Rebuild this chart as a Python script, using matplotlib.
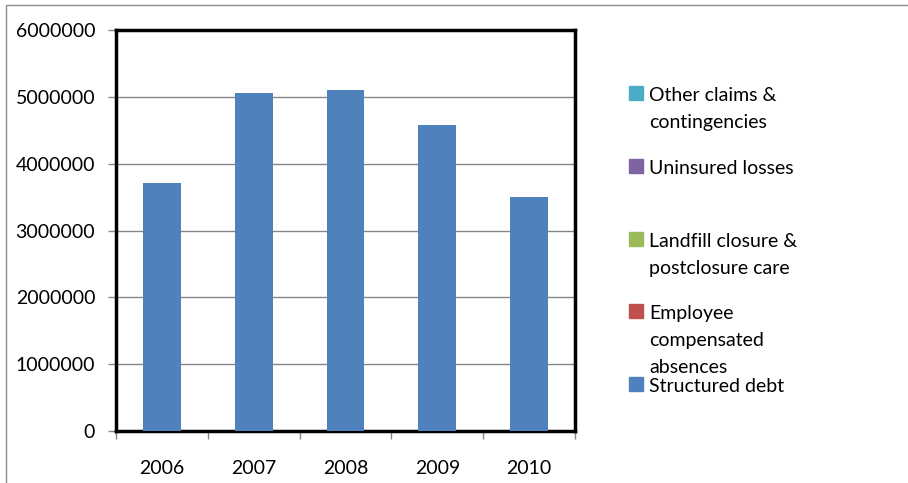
import matplotlib.pyplot as plt
from matplotlib.patches import Rectangle
import numpy as np

plt.rcParams['font.family'] = ['Lato', 'DejaVu Sans']

# 数据
years = ['2006', '2007', '2008', '2009', '2010']
series_names = ['Structured debt', 'Employee\ncompensated\nabsences',
                'Landfill closure &\npostclosure care', 'Uninsured losses',
                'Other claims &\ncontingencies']
structured_debt = [3710000, 5055000, 5095000, 4575000, 3500000]
employee_absences = [0, 0, 0, 0, 0]
landfill_care = [0, 0, 0, 0, 0]
uninsured_losses = [0, 0, 0, 0, 0]
other_claims = [0, 0, 0, 0, 0]
colors = ['#4F81BD', '#C0504D', '#9BBB59', '#8064A2', '#4BACC6']

W, H = 908, 483
fig = plt.figure(figsize=(W / 100, H / 100), dpi=100)
ax = fig.add_axes([116 / W, 1 - 431 / H, (575 - 116) / W, (431 - 30) / H])

x = np.arange(len(years))
bottom = np.zeros(len(years))
for vals, name, c in zip([structured_debt, employee_absences, landfill_care,
                          uninsured_losses, other_claims], series_names, colors):
    ax.bar(x, vals, width=0.41, bottom=bottom, color=c, label=name, zorder=3)
    bottom += np.array(vals)

ax.set_xlim(-0.5, len(years) - 0.5)
ax.set_ylim(0, 6000000)
ax.set_yticks(np.arange(0, 6000001, 1000000))
ax.set_yticklabels([str(v) for v in range(0, 6000001, 1000000)], fontsize=14)
ax.yaxis.grid(True, color='#868686', linewidth=1, zorder=0)

# x 刻度在类别边界, 标签在中间
ax.set_xticks(np.arange(-0.5, len(years), 1))
ax.set_xticklabels([])
ax.set_xticks(x, minor=True)
ax.set_xticklabels(years, minor=True, fontsize=14)
ax.tick_params(axis='x', which='major', length=6, color='#868686', width=1)
ax.tick_params(axis='x', which='minor', length=0, pad=21)
ax.tick_params(axis='y', length=6, color='#868686', width=1, pad=9)

for s in ax.spines.values():
    s.set_linewidth(2.5)
    s.set_color('black')

# 图例 (手动)
for i, (name, c) in enumerate(zip(series_names[::-1], colors[::-1])):
    yc = 93 + i * 72.75
    fig.add_artist(Rectangle((629 / W, 1 - (yc + 7) / H), 14 / W, 14 / H,
                             transform=fig.transFigure, color=c))
    fig.text(649 / W, 1 - (yc - 6) / H, name, fontsize=14, va='top',
             ha='left', linespacing=1.72)

# 外边框
fig.add_artist(Rectangle((6 / W, -0.1), 1.2, 1.1 - 5 / H, transform=fig.transFigure,
                         fill=False, edgecolor='#8c8c8c', linewidth=1))

fig.savefig('out.png', dpi=100)
